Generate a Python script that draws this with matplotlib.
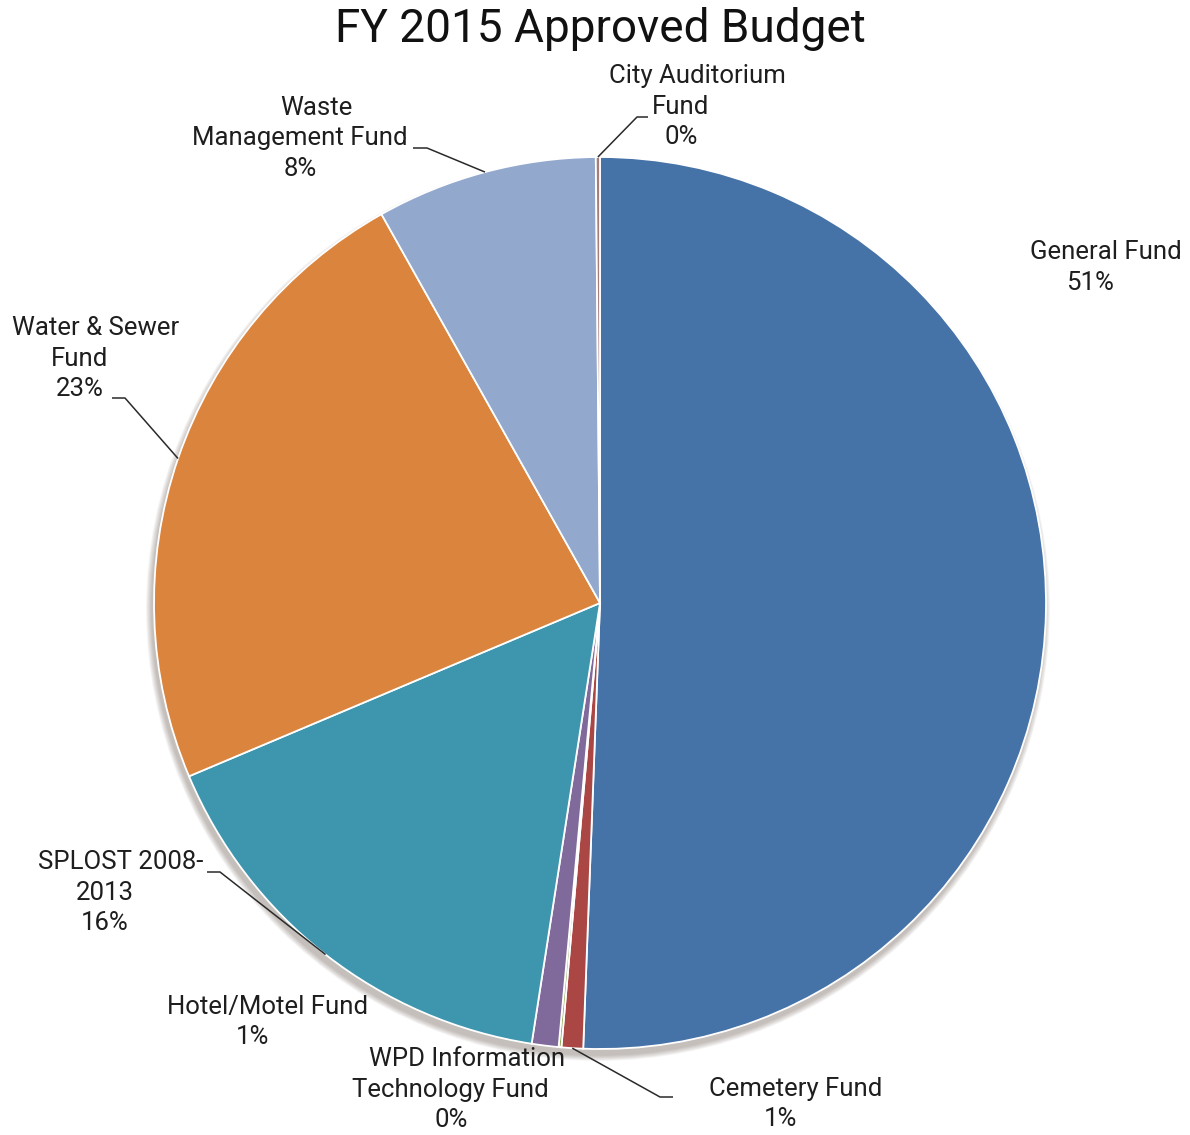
import numpy as np
import matplotlib
matplotlib.use("Agg")
import matplotlib.pyplot as plt
from matplotlib.patches import Circle

plt.rcParams['font.family'] = ['Roboto', 'DejaVu Sans']

# Budget shares by fund (percent), clockwise from 12 o'clock
funds = ["General Fund", "Cemetery Fund", "WPD Information Technology Fund",
         "Hotel/Motel Fund", "SPLOST 2008-2013", "Water & Sewer Fund",
         "Waste Management Fund", "City Auditorium Fund"]
shares = [50.6, 0.78, 0.10, 0.97, 16.2, 23.2, 8.0, 0.15]
colors = ["#4572A7", "#AA4643", "#89A54E", "#80699B", "#3D96AE",
          "#DB843D", "#92A8CD", "#A47D7C"]

# Label text lines per fund (name wrapped as displayed)
label_lines = [
    ["General Fund"],
    ["Cemetery Fund"],
    ["WPD Information", "Technology Fund"],
    ["Hotel/Motel Fund"],
    ["SPLOST 2008-", "2013"],
    ["Water & Sewer", "Fund"],
    ["Waste", "Management Fund"],
    ["City Auditorium", "Fund"],
]

W, H = 1190, 1135
fig = plt.figure(figsize=(W / 100, H / 100), dpi=100)
ax = fig.add_axes([0, 0, 1, 1])

cx, cy, R = 600, H - 603, 446

# soft drop shadow under the pie, mostly along the lower rim
for k in range(10, 0, -1):
    ax.add_patch(Circle((cx - 2, cy - 6), R + k * 0.6, color="#5a4a40",
                        alpha=0.04, lw=0, zorder=1))

wedges, _ = ax.pie(shares, colors=colors, startangle=90, counterclock=False,
                   center=(cx, cy), radius=R,
                   wedgeprops=dict(edgecolor="white", linewidth=1.3))
for w in wedges:
    w.set_zorder(2)

ax.set_xlim(0, W)
ax.set_ylim(0, H)
ax.set_aspect('equal')
ax.axis('off')

# Label placement: (x of centered lines, y of first line, in pixels from top)
label_pos = [
    (1090, 252),
    (780, 1089),
    (451, 1059),
    (252, 1007),
    (105, 862),
    (80, 328),
    (300, 108),
    (681, 76),
]
line_gap = 30.5
txt_color = "#1e1e1e"

for lines, share, (lx, ly) in zip(label_lines, shares, label_pos):
    all_lines = lines + [f"{round(share):d}%"]
    for i, s in enumerate(all_lines):
        x = lx + (16 if (i == 0 and len(all_lines) > 1) else 0)
        if s == "Management Fund":
            x = lx
        if s == "Technology Fund":
            x = lx - 1
        ax.text(x, H - (ly + i * line_gap), s, ha="center", va="center",
                fontsize=18.5, color=txt_color, zorder=5)

# Leader lines: from wedge mid-edge to an elbow, then a short horizontal tick
cum = np.concatenate([[0], np.cumsum(shares)]) / sum(shares) * 360.0


def edge_point(idx):
    a = np.deg2rad((cum[idx] + cum[idx + 1]) / 2.0)
    return cx + R * np.sin(a), cy + R * np.cos(a)


leaders = {
    7: [(637, 117), (648, 117)],
    6: [(427, 148), (413, 148)],
    5: [(125, 398), (112, 398)],
    4: [(220, 872), (207, 872)],
    1: [(660, 1097), (673, 1097)],
}
for idx, pts in leaders.items():
    ex, ey = edge_point(idx)
    xs = [ex] + [p[0] for p in pts]
    ys = [ey] + [H - p[1] for p in pts]
    ax.plot(xs, ys, color="#2a2a2a", lw=1.1, zorder=4, solid_capstyle="butt")

ax.text(600, H - 29, "FY 2015 Approved Budget", ha="center", va="center",
        fontsize=33, color="#111111", zorder=5)

fig.savefig("out.png", dpi=100, facecolor="white")
